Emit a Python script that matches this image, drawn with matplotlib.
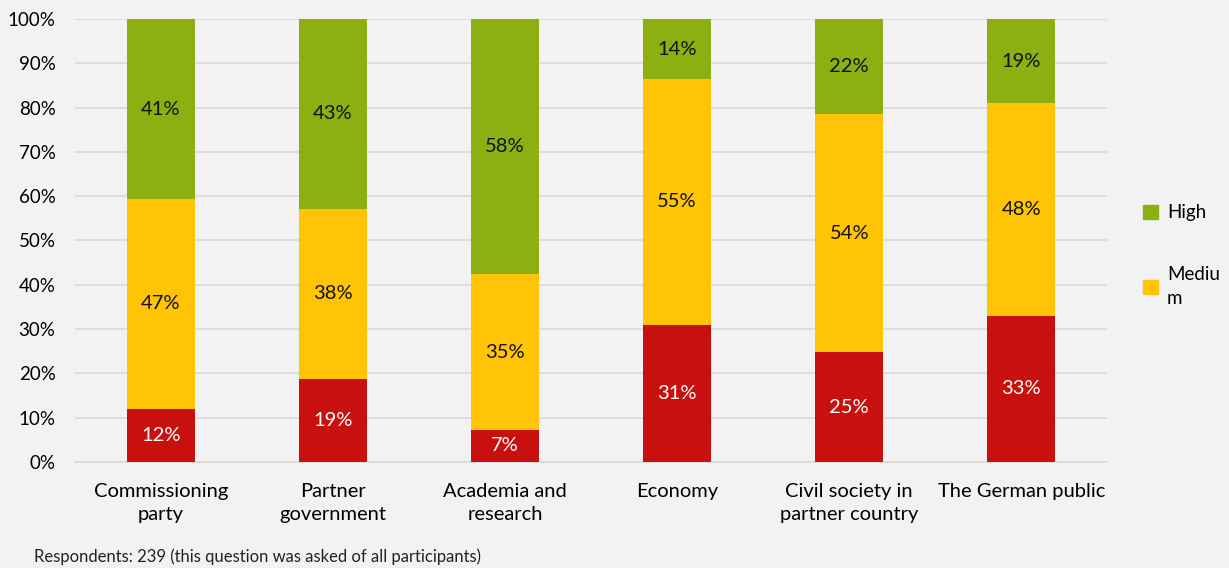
import numpy as np
import matplotlib.pyplot as plt
from matplotlib.patches import Patch

plt.rcParams['font.family'] = ['Lato', 'DejaVu Sans']

categories = ["Commissioning\nparty", "Partner\ngovernment", "Academia and\nresearch",
              "Economy", "Civil society in\npartner country", "The German public"]
low = [12.0, 18.8, 7.2, 31.0, 24.7, 33.0]
medium = [47.3, 38.4, 35.1, 55.4, 53.8, 48.0]
high = [40.7, 42.8, 57.7, 13.6, 21.5, 19.0]

bg = "#F2F2F2"
c_low, c_med, c_high = "#C8100F", "#FFC405", "#8CB011"

fig = plt.figure(figsize=(12.29, 5.68), dpi=100, facecolor=bg)
ax = fig.add_axes([0.061, 0.187, 0.840, 0.7795], facecolor=bg)

x = np.arange(len(categories))
w = 0.395
low_a, med_a, high_a = np.array(low), np.array(medium), np.array(high)
b1 = ax.bar(x, low_a, w, color=c_low, zorder=3)
b2 = ax.bar(x, med_a, w, bottom=low_a, color=c_med, zorder=3)
b3 = ax.bar(x, high_a, w, bottom=low_a + med_a, color=c_high, zorder=3)

for bars, vals, col in [(b1, low_a, "white"), (b2, med_a, "#111111"), (b3, high_a, "#111111")]:
    ax.bar_label(bars, labels=[f"{v:.0f}%" for v in vals], label_type="center",
                 color=col, fontsize=14.5)

ax.set_xlim(-0.5, len(categories) - 0.5)
ax.set_ylim(0, 100)
ax.set_yticks(np.arange(0, 101, 10))
ax.set_yticklabels([f"{t}%" for t in range(0, 101, 10)], fontsize=13.5)
ax.set_xticks(x)
ax.set_xticklabels(categories, fontsize=14.5)
for t in ax.get_xticklabels():
    t.set_linespacing(1.45)
ax.tick_params(length=0)
ax.tick_params(axis="x", pad=15)
ax.tick_params(axis="y", pad=14)
ax.grid(axis="y", color="#D9D9D9", linewidth=1.2, zorder=0)
for s in ["top", "right", "left"]:
    ax.spines[s].set_visible(False)
ax.spines["bottom"].set_color("#D9D9D9")
ax.spines["bottom"].set_linewidth(1.2)

handles = [Patch(color=c_high), Patch(color=c_med)]
leg = fig.legend(handles, ["High", "Mediu\nm"], loc="upper left", bbox_to_anchor=(0.916, 0.67),
                 frameon=False, handlelength=0.8, handleheight=0.8,
                 labelspacing=2.4, handletextpad=0.5, prop={"size": 13.5})
for t in leg.get_texts():
    t.set_linespacing(1.5)

fig.text(0.028, 0.01, "Respondents: 239 (this question was asked of all participants)",
         fontsize=12, color="#222222")

fig.savefig("out.png", dpi=100, facecolor=bg)
